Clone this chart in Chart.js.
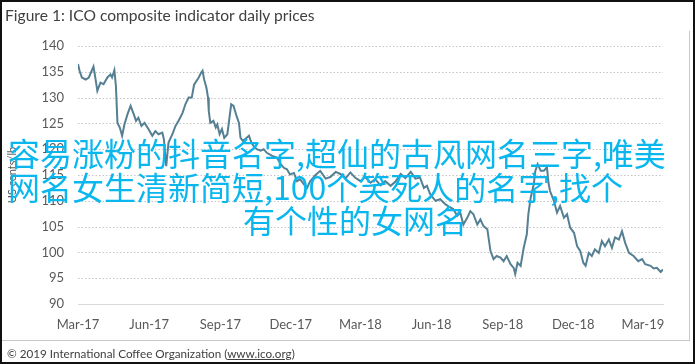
<!DOCTYPE html>
<html>
<head>
<meta charset="utf-8">
<script src="https://cdn.jsdelivr.net/npm/chart.js@4.4.1/dist/chart.umd.min.js"></script>
<style>
  html, body { margin: 0; padding: 0; background: #fff; }
  #wrap { position: relative; width: 695px; height: 364px; overflow: hidden; background: #fff; }
  #chart { position: absolute; left: 0; top: 0; }
  #frame { position: absolute; left: 0; top: 0; width: 695px; height: 364px; box-sizing: border-box; border: 2px solid #111; pointer-events: none; }
  #inner { position: absolute; left: 0; top: 31px; width: 690px; height: 310px; box-sizing: border-box; border-right: 1px solid #c8c8c8; border-bottom: 1px solid #c8c8c8; pointer-events: none; }
  #title { position: absolute; left: 5px; top: 6px; font: 15.6px Lato, sans-serif; color: #404040; white-space: nowrap; }
  #footer { position: absolute; left: 7px; top: 346px; font: 11.7px Lato, sans-serif; color: #404040; white-space: nowrap; }
  #footer u { text-decoration: underline; }
  .overlay { position: absolute; font: 32px "Noto Sans CJK SC", sans-serif; color: #09b7ee; white-space: nowrap; line-height: 1; }
</style>
</head>
<body>
<div id="wrap">
  <canvas id="chart" width="695" height="364"></canvas>
  <div id="inner"></div>
  <div id="title">Figure 1: ICO composite indicator daily prices</div>
  <div id="footer">© 2019 International Coffee Organization (<u>www.ico.org</u>)</div>
  <div class="overlay" id="ov1" style="left:8px; top:136px;">容易涨粉的抖音名字,超仙的古风网名三字,唯美</div>
  <div class="overlay" id="ov2" style="left:8px; top:170px;">网名女生清新简短,100个笑死人的名字,找个</div>
  <div class="overlay" id="ov3" style="left:243px; top:203px;">有个性的女网名</div>
  <div id="frame"></div>
</div>
<script>
// -------------------------
// Data
// -------------------------
const START_DATE = '2017-03-01';

const priceDates = [
  '2017-03-01','2017-03-03','2017-03-06','2017-03-11','2017-03-15','2017-03-21','2017-03-23','2017-03-26','2017-03-30',
  '2017-04-03','2017-04-08','2017-04-12','2017-04-14','2017-04-17','2017-04-19','2017-04-21','2017-04-24','2017-04-27','2017-04-30',
  '2017-05-04','2017-05-08','2017-05-12','2017-05-15','2017-05-18','2017-05-22','2017-05-26','2017-05-31',
  '2017-06-05','2017-06-09','2017-06-13','2017-06-18','2017-06-20','2017-06-23','2017-06-26',
  '2017-07-01','2017-07-05','2017-07-09','2017-07-14','2017-07-18','2017-07-22','2017-07-26','2017-07-29',
  '2017-08-04','2017-08-07','2017-08-09','2017-08-11','2017-08-14','2017-08-16','2017-08-17','2017-08-19','2017-08-23','2017-08-26','2017-08-28','2017-08-31',
  '2017-09-03','2017-09-06','2017-09-10','2017-09-13','2017-09-15','2017-09-18','2017-09-22','2017-09-25','2017-09-27','2017-09-30',
  '2017-10-05','2017-10-08','2017-10-11','2017-10-14','2017-10-18','2017-10-23','2017-10-27','2017-10-31',
  '2017-11-07','2017-11-13','2017-11-18','2017-11-22','2017-11-26','2017-11-30',
  '2017-12-05','2017-12-09','2017-12-13','2017-12-18','2017-12-22','2017-12-26',
  '2018-01-02','2018-01-08','2018-01-15','2018-01-21','2018-01-28',
  '2018-02-03','2018-02-10','2018-02-16','2018-02-22',
  '2018-03-01','2018-03-07','2018-03-14','2018-03-20','2018-03-27',
  '2018-04-02','2018-04-09','2018-04-15','2018-04-22','2018-04-28',
  '2018-05-05','2018-05-11','2018-05-17','2018-05-22','2018-05-26','2018-05-30',
  '2018-06-06','2018-06-12','2018-06-19','2018-06-25','2018-06-29',
  '2018-07-04','2018-07-08','2018-07-12','2018-07-17','2018-07-21','2018-07-25','2018-07-30',
  '2018-08-03','2018-08-07','2018-08-12','2018-08-16','2018-08-20','2018-08-24','2018-08-29',
  '2018-09-02','2018-09-06','2018-09-11','2018-09-15','2018-09-17','2018-09-20','2018-09-24','2018-09-28',
  '2018-10-02','2018-10-04','2018-10-07','2018-10-11','2018-10-13','2018-10-16','2018-10-20','2018-10-24','2018-10-28','2018-10-30',
  '2018-11-01','2018-11-06','2018-11-10','2018-11-14','2018-11-19','2018-11-23','2018-11-27',
  '2018-12-02','2018-12-06','2018-12-10','2018-12-14','2018-12-17','2018-12-21','2018-12-25','2018-12-29',
  '2019-01-03','2019-01-07','2019-01-11','2019-01-16','2019-01-20','2019-01-24','2019-01-29',
  '2019-02-02','2019-02-06','2019-02-11','2019-02-17','2019-02-23','2019-02-28',
  '2019-03-04','2019-03-11','2019-03-15','2019-03-19','2019-03-24','2019-03-27'
];

const priceValues = [
  136.5,135.2,133.9,133.5,133.9,136.0,134.2,131.3,132.9,
  132.6,133.9,134.5,133.9,135.3,132.2,125.1,124.2,122.6,124.8,
  126.8,128.4,126.8,125.5,126.1,124.5,125.1,123.9,
  122.6,123.5,122.9,123.2,121.9,116.7,121.3,
  122.9,124.5,125.5,127.0,128.8,130.0,130.0,132.5,
  133.9,134.8,135.2,133.5,131.9,130.0,127.4,125.1,125.5,124.2,124.8,122.9,
  123.9,122.2,122.9,126.4,128.7,128.4,126.4,125.1,122.2,121.6,
  122.2,122.6,121.3,120.6,120.0,119.7,120.0,119.3,
  118.7,118.4,117.1,116.4,116.1,115.1,
  115.4,113.8,114.2,113.2,112.5,113.8,
  115.0,115.8,114.3,114.6,115.6,
  115.2,114.4,115.5,114.5,
  113.8,114.6,113.5,114.2,113.0,
  113.8,112.9,113.7,115.2,114.4,
  115.6,114.3,114.5,112.5,112.9,111.3,
  110.0,110.3,109.3,108.7,108.4,
  107.1,107.7,105.4,106.7,108.0,107.4,105.4,
  106.4,105.1,104.5,100.3,98.7,99.3,99.0,
  98.3,99.3,97.7,97.0,95.8,98.0,97.4,100.9,
  103.5,107.4,110.6,113.2,115.8,117.1,115.8,115.8,116.5,113.5,
  111.9,110.0,107.7,109.0,106.7,107.4,104.8,
  103.8,101.2,100.3,98.0,97.4,99.9,99.3,100.6,
  99.9,102.2,101.2,102.5,100.9,102.9,102.5,
  104.1,101.9,99.9,99.3,98.3,98.7,
  97.7,97.4,96.9,97.0,96.2,96.7
];

const tickDates = ['2017-03-01','2017-06-01','2017-09-01','2017-12-01','2018-03-01','2018-06-01','2018-09-01','2018-12-01','2019-03-01'];
const tickLabels = ['Mar-17','Jun-17','Sep-17','Dec-17','Mar-18','Jun-18','Sep-18','Dec-18','Mar-19'];

const Y_MIN = 90, Y_MAX = 140, Y_STEP = 5;

// -------------------------
// Helpers
// -------------------------
function dayOffset(d) {
  return (Date.parse(d + 'T00:00:00Z') - Date.parse(START_DATE + 'T00:00:00Z')) / 86400000;
}

const points = priceDates.map((d, i) => ({ x: dayOffset(d), y: priceValues[i] }));
const tickOffsets = tickDates.map(dayOffset);

const TEXT = '#595959';
const AXIS_FONT = { family: 'Lato, sans-serif', size: 13 };

// dotted horizontal gridlines (Excel style), drawn at the y scale's tick positions
const dottedGrid = {
  id: 'dottedGrid',
  beforeDatasetsDraw(chart) {
    const { ctx, chartArea, scales } = chart;
    ctx.save();
    ctx.strokeStyle = '#c4c4c4';
    ctx.lineWidth = 1;
    ctx.setLineDash([1.5, 2]);
    scales.y.ticks.forEach(t => {
      if (t.value === Y_MIN) return;
      const y = Math.round(scales.y.getPixelForValue(t.value)) + 0.5;
      ctx.beginPath();
      ctx.moveTo(chartArea.left, y);
      ctx.lineTo(chartArea.right, y);
      ctx.stroke();
    });
    ctx.restore();
  }
};

// -------------------------
// Chart
// -------------------------
new Chart(document.getElementById('chart'), {
  type: 'line',
  data: {
    datasets: [{
      data: points,
      borderColor: '#557f93',
      borderWidth: 2,
      pointRadius: 0,
      tension: 0,
      fill: false
    }]
  },
  options: {
    responsive: false,
    animation: false,
    events: [],
    layout: { padding: { left: 0, right: 32, top: 46, bottom: 0 } },
    plugins: { legend: { display: false }, tooltip: { enabled: false } },
    scales: {
      x: {
        type: 'linear',
        min: 0,
        max: points[points.length - 1].x,
        afterBuildTicks: (scale) => { scale.ticks = tickOffsets.map(v => ({ value: v })); },
        afterFit: (scale) => { scale.height = 60; },
        grid: { display: false, drawTicks: false },
        border: { display: true, color: '#d9d9d9', width: 1 },
        ticks: {
          color: TEXT, font: AXIS_FONT, padding: 13, maxRotation: 0, autoSkip: false,
          callback: (v) => tickLabels[tickOffsets.indexOf(v)] || ''
        }
      },
      y: {
        min: Y_MIN,
        max: Y_MAX,
        afterFit: (scale) => { scale.width = 78; },
        grid: { display: false, drawTicks: false },
        border: { display: false },
        ticks: { stepSize: Y_STEP, color: TEXT, font: AXIS_FONT, padding: 14 },
        title: {
          display: true, text: 'US cents/lb', color: TEXT,
          font: { family: 'Lato, sans-serif', size: 11 }, padding: { top: 6, bottom: 0 }
        }
      }
    }
  },
  plugins: [dottedGrid]
});
</script>
</body>
</html>
